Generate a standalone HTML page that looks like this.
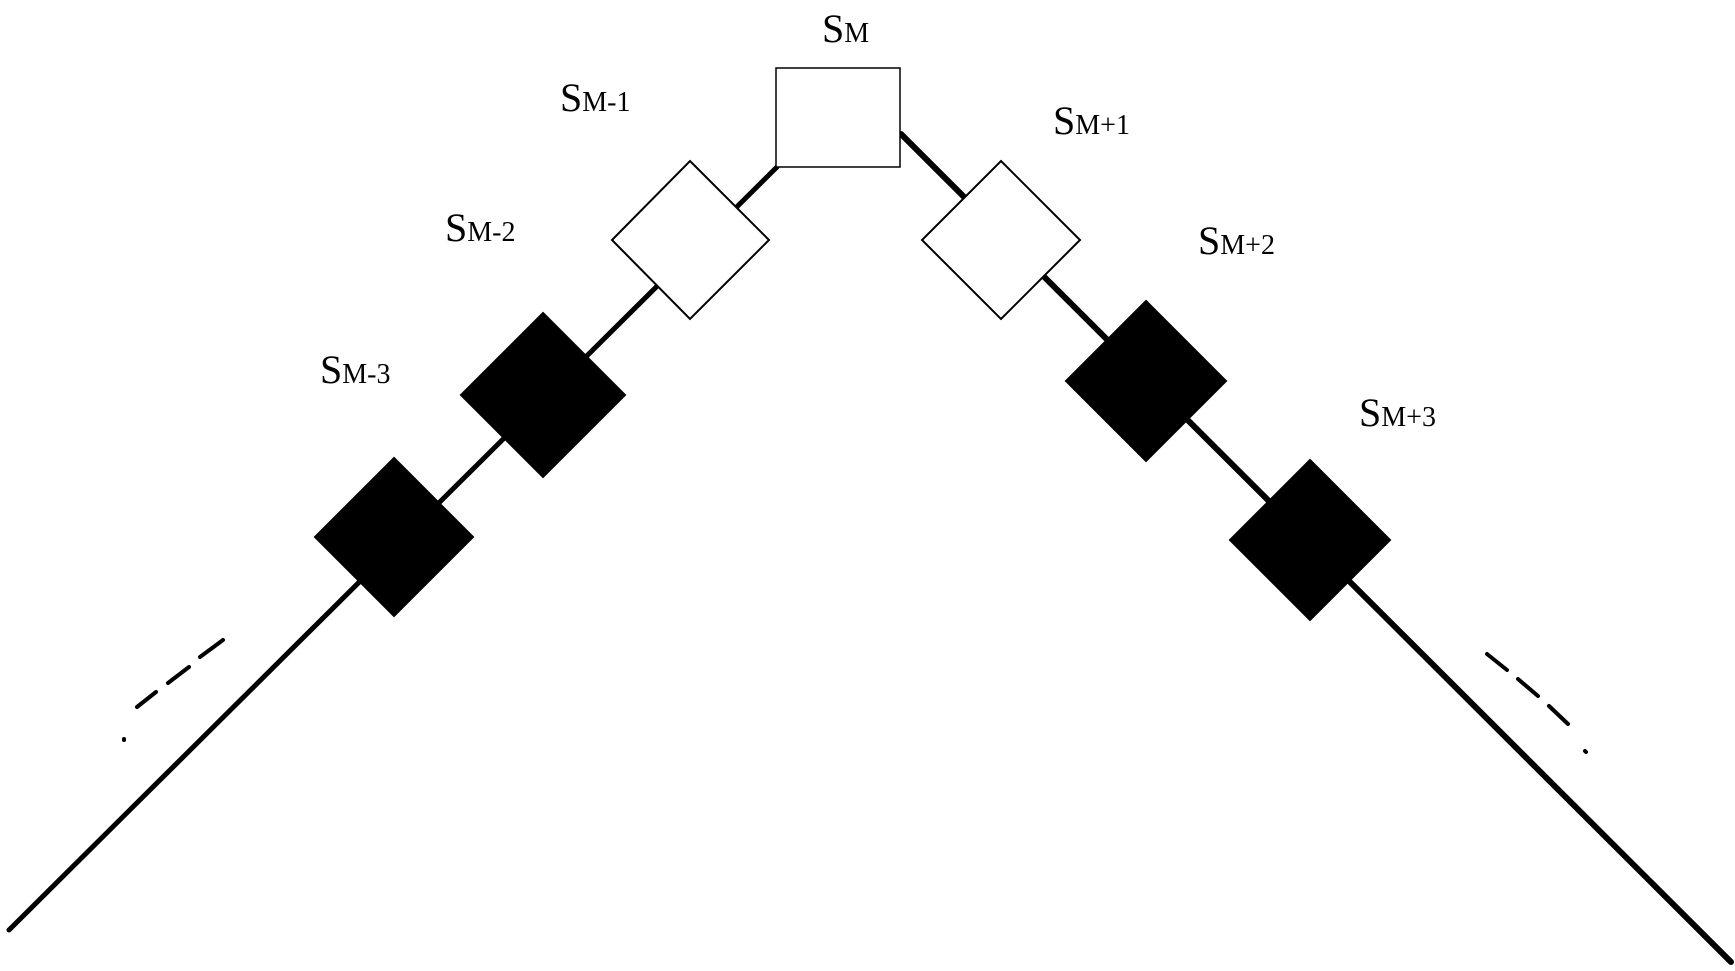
<!DOCTYPE html>
<html><head><style>body{margin:0;background:#fff}svg{display:block}</style></head><body>
<svg width="1735" height="971" viewBox="0 0 1735 971" xmlns="http://www.w3.org/2000/svg">
<g stroke="#000" stroke-linecap="round">
<line x1="777" y1="167" x2="9" y2="930" stroke-width="5"/>
<line x1="901" y1="134" x2="1731" y2="962" stroke-width="6"/>
<g stroke-width="4">
<line x1="223" y1="640" x2="200" y2="657"/>
<line x1="189" y1="667" x2="168" y2="683"/>
<line x1="156" y1="692" x2="137" y2="707"/>
<line x1="124" y1="739" x2="124" y2="740"/>
<line x1="1487" y1="654" x2="1507" y2="670"/>
<line x1="1518" y1="679" x2="1538" y2="696"/>
<line x1="1549" y1="706" x2="1568" y2="724"/>
<line x1="1585" y1="751" x2="1586" y2="752"/>
</g>
</g>
<rect x="776" y="68" width="124" height="99" fill="#fff" stroke="#000" stroke-width="1.5"/>
<g stroke="#000" stroke-width="2">
<polygon points="690,161 769,240 690,319 612,240" fill="#fff"/>
<polygon points="1001,161 1080,240 1001,319 922,240" fill="#fff"/>
<polygon points="543,313 625,395 543,477 461,395" fill="#000"/>
<polygon points="1146,301 1226,381 1146,461 1066,381" fill="#000"/>
<polygon points="394,458 473,537 394,616 315,537" fill="#000"/>
<polygon points="1310,460 1390,540 1310,620 1230,540" fill="#000"/>
</g>
<g font-family="Liberation Serif, serif" fill="#000">
<text x="822" y="42" font-size="40">S<tspan font-size="28">M</tspan></text>
<text x="560" y="111" font-size="40">S<tspan font-size="28">M-1</tspan></text>
<text x="445" y="241" font-size="40">S<tspan font-size="28">M-2</tspan></text>
<text x="320" y="383" font-size="40">S<tspan font-size="28">M-3</tspan></text>
<text x="1053" y="134" font-size="40">S<tspan font-size="28">M+1</tspan></text>
<text x="1198" y="254" font-size="40">S<tspan font-size="28">M+2</tspan></text>
<text x="1359" y="426" font-size="40">S<tspan font-size="28">M+3</tspan></text>
</g>
</svg>
</body></html>
